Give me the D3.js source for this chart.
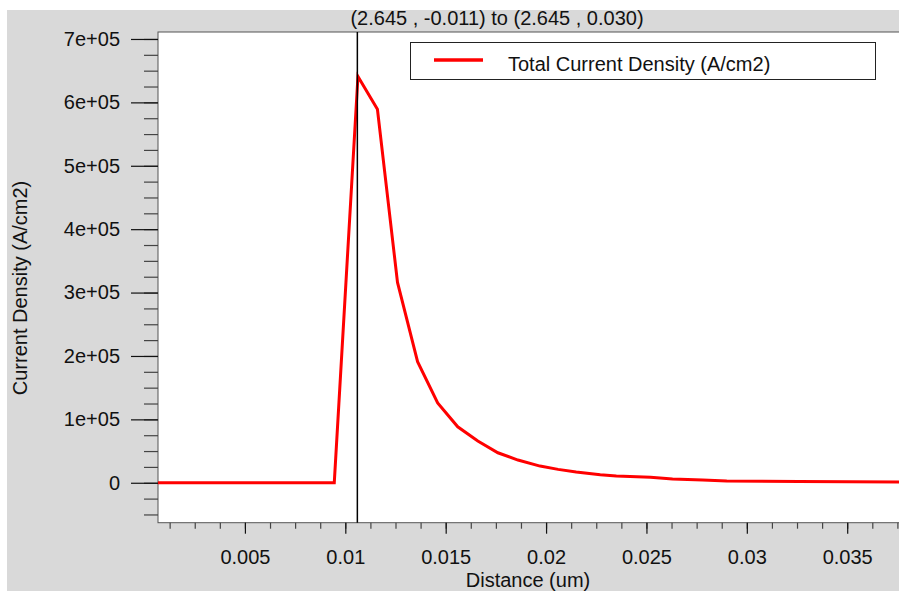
<!DOCTYPE html>
<html><head><meta charset="utf-8">
<script src="https://cdn.jsdelivr.net/npm/d3@7"></script>
<style>
html,body{margin:0;padding:0;background:#fff;}
svg{display:block;font-family:"Liberation Sans",Arial,sans-serif;}
</style></head>
<body>
<svg id="chart" width="899" height="593"></svg>
<script>
const titleText = "(2.645 , -0.011) to (2.645 , 0.030)";
const xTitle = "Distance (um)";
const yTitle = "Current Density (A/cm2)";
const legendLabel = "Total Current Density (A/cm2)";
const distance = [0, 0.00945, 0.01063, 0.0116, 0.0126, 0.0136, 0.0146, 0.0156, 0.0166, 0.0176, 0.0186, 0.0197, 0.0206, 0.0215, 0.0227, 0.0235, 0.0252, 0.0263, 0.0278, 0.029, 0.0326, 0.0376, 0.041];
const current = [0, 0, 641000, 589000, 316000, 191000, 126000, 88300, 65800, 47300, 35800, 26300, 21100, 16900, 12600, 10600, 8500, 5800, 4300, 2700, 1800, 1200, 1000];
const markerX = 0.0106;
const xTicks = [0.005, 0.01, 0.015, 0.02, 0.025, 0.03, 0.035];
const xTickLabels = ["0.005", "0.01", "0.015", "0.02", "0.025", "0.03", "0.035"];
const yTicks = [0, 100000, 200000, 300000, 400000, 500000, 600000, 700000];
const yTickLabels = ["0", "1e+05", "2e+05", "3e+05", "4e+05", "5e+05", "6e+05", "7e+05"];
const xDomain = [0.00067, 0.03758];
const yDomain = [-63000, 711000];

const FS = "20px";
const svg = d3.select("#chart");
const W = 899, H = 593;
const L = 158, T = 32, R = 899, B = 522.7;

svg.append("rect").attr("x", 7).attr("y", 10).attr("width", W - 7).attr("height", 581).attr("fill", "#d9d9d9");

const x = d3.scaleLinear().domain(xDomain).range([L, R]);
const y = d3.scaleLinear().domain(yDomain).range([B, T]);

svg.append("rect").attr("x", L).attr("y", T).attr("width", R - L + 5).attr("height", B - T)
  .attr("fill", "#fff").attr("stroke", "#555").attr("stroke-width", 1);

const xMinor = d3.range(0.00125, 0.0376, 0.00125).filter(v => v >= xDomain[0] && v <= xDomain[1]);
const yMinor = d3.range(-50000, 711000, 25000).filter(v => v >= yDomain[0]);

function styleAxis(g, col) {
  g.select(".domain").remove();
  g.selectAll(".tick line").attr("stroke", col).attr("stroke-width", 1.2);
  g.selectAll("text").attr("fill", "#111").style("font-size", FS).style("font-family", '"Liberation Sans",Arial,sans-serif');
}

svg.append("g").attr("transform", `translate(0,${B})`)
  .call(d3.axisBottom(x).tickValues(xMinor).tickSize(6).tickFormat(""))
  .call(styleAxis, "#444");
svg.append("g").attr("transform", `translate(0,${B})`)
  .call(d3.axisBottom(x).tickValues(xTicks).tickSize(11).tickPadding(16).tickFormat((d, i) => xTickLabels[i]))
  .call(styleAxis, "#111");
svg.append("g").attr("transform", `translate(${L},0)`)
  .call(d3.axisLeft(y).tickValues(yMinor).tickSize(14).tickFormat(""))
  .call(styleAxis, "#444");
svg.append("g").attr("transform", `translate(${L},0)`)
  .call(d3.axisLeft(y).tickValues(yTicks).tickSize(27).tickPadding(11).tickFormat((d, i) => yTickLabels[i]))
  .call(styleAxis, "#111");

svg.append("clipPath").attr("id", "clip").append("rect")
  .attr("x", L).attr("y", T).attr("width", R - L).attr("height", B - T);

const pts = distance.map((d, i) => [d, current[i]]);
svg.append("path").datum(pts).attr("clip-path", "url(#clip)")
  .attr("fill", "none").attr("stroke", "#ff0000").attr("stroke-width", 3)
  .attr("stroke-linejoin", "miter")
  .attr("d", d3.line().x(d => x(d[0])).y(d => y(d[1])));

svg.append("line").attr("x1", x(markerX)).attr("x2", x(markerX)).attr("y1", T).attr("y2", B)
  .attr("stroke", "#000").attr("stroke-width", 1.5);

svg.append("rect").attr("x", 410.5).attr("y", 42.5).attr("width", 465).attr("height", 37)
  .attr("fill", "#fff").attr("stroke", "#222").attr("stroke-width", 1);
svg.append("line").attr("x1", 434).attr("x2", 483).attr("y1", 60).attr("y2", 60)
  .attr("stroke", "#ff0000").attr("stroke-width", 3.5);
svg.append("text").attr("x", 508).attr("y", 64).attr("dy", "0.35em")
  .style("font-size", FS).attr("fill", "#111").text(legendLabel);

svg.append("text").attr("x", 497).attr("y", 18).attr("dy", "0.35em").attr("text-anchor", "middle")
  .style("font-size", FS).attr("fill", "#111").text(titleText);
svg.append("text").attr("x", 528).attr("y", 580).attr("dy", "0.35em").attr("text-anchor", "middle")
  .style("font-size", FS).attr("fill", "#111").text(xTitle);
svg.append("text").attr("transform", "translate(20,288) rotate(-90)").attr("dy", "0.35em").attr("text-anchor", "middle")
  .style("font-size", FS).attr("fill", "#111").text(yTitle);
</script>
</body></html>
